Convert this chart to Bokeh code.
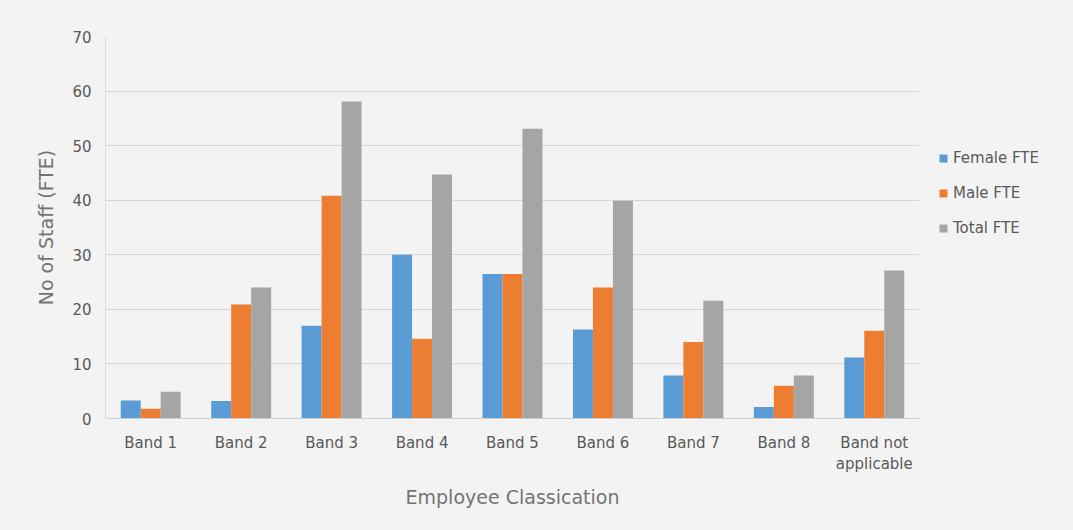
from bokeh.plotting import figure
from bokeh.layouts import row
from bokeh.models import ColumnDataSource, FactorRange, Legend, LegendItem, SingleIntervalTicker
from bokeh.transform import dodge
from bokeh.embed import file_html
from bokeh.resources import INLINE

# Staff numbers (FTE) by band
bands = ["Band 1", "Band 2", "Band 3", "Band 4", "Band 5",
         "Band 6", "Band 7", "Band 8", "Band not\napplicable"]
female_fte = [3.3, 3.2, 17.0, 30.0, 26.5, 16.3, 7.9, 2.1, 11.2]
male_fte = [1.8, 20.9, 40.8, 14.6, 26.5, 24.0, 14.0, 6.0, 16.1]
total_fte = [4.9, 24.0, 58.1, 44.7, 53.1, 39.9, 21.6, 7.9, 27.1]

series_names = ["Female FTE", "Male FTE", "Total FTE"]
series_colors = ["#5B9BD5", "#ED7D31", "#A5A5A5"]
series_cols = ["female", "male", "total"]

BG = "#f3f3f3"
FONT = "DejaVu Sans"

source = ColumnDataSource(dict(band=bands, female=female_fte,
                               male=male_fte, total=total_fte))

p = figure(x_range=FactorRange(*bands, range_padding=0), y_range=(0, 70),
           width=924, height=530, output_backend="svg", toolbar_location=None,
           min_border_left=105, min_border_right=5, min_border_top=36,
           min_border_bottom=112)

p.background_fill_color = BG
p.border_fill_color = BG
p.outline_line_color = None

bar_w = 0.221
for col, off, color in zip(series_cols, [-bar_w, 0.0, bar_w], series_colors):
    p.vbar(x=dodge("band", off, range=p.x_range), top=col, width=bar_w,
           source=source, fill_color=color, line_color=None)

# grid and axes
p.ygrid.ticker = SingleIntervalTicker(interval=10)
p.yaxis.ticker = SingleIntervalTicker(interval=10)
p.ygrid.grid_line_color = "#d6d6d6"
p.ygrid.grid_line_width = 1
p.xgrid.grid_line_color = None

for ax in (p.xaxis, p.yaxis):
    ax.major_tick_line_color = None
    ax.minor_tick_line_color = None
    ax.major_label_text_color = "#595959"
    ax.major_label_text_font = FONT
    ax.major_label_text_font_size = "15px"
    ax.axis_label_text_font = FONT
    ax.axis_label_text_font_style = "normal"
    ax.axis_label_text_color = "#747474"
    ax.axis_label_text_font_size = "19px"

p.yaxis.axis_line_color = "#dcdcdc"
p.xaxis.axis_line_color = "#d0d0d0"
p.yaxis.major_label_standoff = 8
p.xaxis.major_label_standoff = 9
p.yaxis.axis_label = "No of Staff (FTE)"
p.yaxis.axis_label_standoff = 12
p.xaxis.axis_label = "Employee Classication"
p.xaxis.axis_label_standoff = 10

# legend strip to the right of the chart
lg = figure(width=149, height=530, output_backend="svg", toolbar_location=None,
            x_range=(0, 1), y_range=(0, 1), min_border=0)
lg.axis.visible = False
lg.grid.visible = False
lg.outline_line_color = None
lg.background_fill_color = BG
lg.border_fill_color = BG

# off-screen swatch renderers that only supply the legend's colours
swatches = []
for color in series_colors:
    swatches.append(lg.quad(left=[5], right=[6], top=[6], bottom=[5],
                            fill_color=color, line_color=None))

legend = Legend(items=[LegendItem(label=n, renderers=[r]) for n, r in zip(series_names, swatches)],
                location=(14, 181), orientation="vertical")
legend.background_fill_alpha = 0
legend.border_line_color = None
legend.glyph_width = 10
legend.glyph_height = 10
legend.label_text_font = FONT
legend.label_text_font_size = "15px"
legend.label_text_color = "#595959"
legend.spacing = 17
legend.label_standoff = 5
lg.add_layout(legend, "center")

open("out.html", "w").write(file_html(row(p, lg, styles={"background-color": BG}), INLINE))
